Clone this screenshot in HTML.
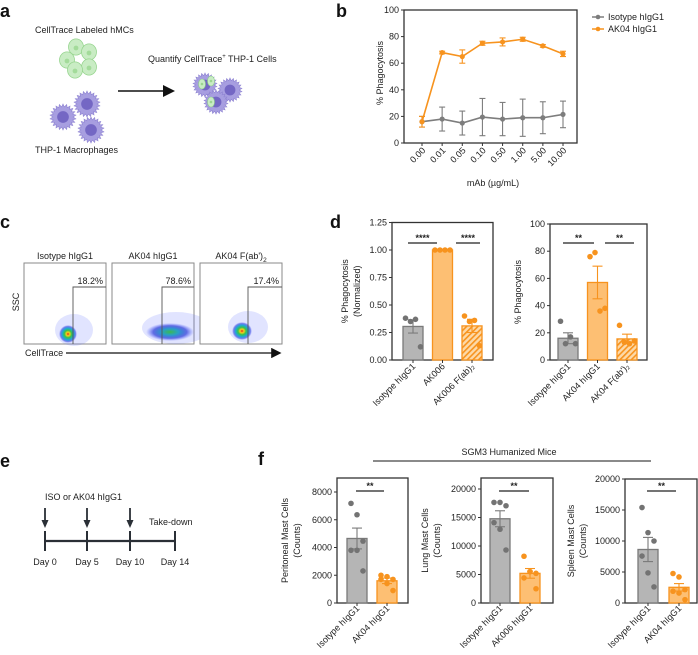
<!DOCTYPE html>
<html><head><meta charset="utf-8">
<style>
html,body{margin:0;padding:0;background:#fff;}
svg{display:block;font-family:"Liberation Sans",Arial,sans-serif;}
.t{font-size:9px;fill:#222;}
.lbl{font-size:18px;font-weight:bold;fill:#111;}
</style></head>
<body>
<svg id="fig" width="698" height="655" viewBox="0 0 698 655" xmlns="http://www.w3.org/2000/svg">
<defs>
<pattern id="hatch" patternUnits="userSpaceOnUse" width="4" height="4" patternTransform="rotate(45)">
<rect width="4" height="4" fill="#fdd9a8"/><rect width="1.6" height="4" fill="#f7931e"/>
</pattern>
<radialGradient id="flowA" cx="50%" cy="50%" r="50%">
<stop offset="0" stop-color="#e3261c"/><stop offset="0.2" stop-color="#f5d21a"/><stop offset="0.4" stop-color="#36c24a"/><stop offset="0.65" stop-color="#1fa8d8"/><stop offset="0.85" stop-color="#3040e0" stop-opacity="0.6"/><stop offset="1" stop-color="#5060ff" stop-opacity="0"/>
</radialGradient>
<radialGradient id="flowB" cx="50%" cy="50%" r="50%">
<stop offset="0" stop-color="#3cb850"/><stop offset="0.35" stop-color="#28a0c8"/><stop offset="0.7" stop-color="#2838d8" stop-opacity="0.7"/><stop offset="1" stop-color="#5060ff" stop-opacity="0"/>
</radialGradient>
<marker id="ah" markerWidth="8" markerHeight="8" refX="6" refY="4" orient="auto"><path d="M0,0 L8,4 L0,8 z" fill="#111"/></marker>
</defs>
<g id="root"></g>
</svg>
<script>
// ---------- Panel b data ----------
const bDoses = ["0.00","0.01","0.05","0.10","0.50","1.00","5.00","10.00"];
const bYTicks = [0,20,40,60,80,100];
const bIsoMean = [16,18,15,19.5,18,19,19,21.5];
const bIsoErr = [4,9,9,14,12.5,14,12,10];
const bAkMean = [16,68,65,75,76,78,73,67];
const bAkErr = [4,1,5,1.5,3,1.5,1,2];
// ---------- Panel d data ----------
const dLeftCats = ["Isotype hIgG1","AK006","AK006 F(ab)₂"];
const dLeftMeans = [0.305,1.0,0.31];
const dLeftSem = [0.06,0,0.06];
const dLeftPts0 = [0.38,0.35,0.37,0.12];
const dLeftPts1 = [1.0,1.0,1.0,1.0];
const dLeftPts2 = [0.40,0.35,0.36,0.13];
const dLeftTicks = [0,0.25,0.5,0.75,1.0,1.25];
const dRightCats = ["Isotype hIgG1","AK04 hIgG1","AK04 F(ab')₂"];
const dRightMeans = [16,57,15.5];
const dRightSem = [4,12,3.5];
const dRightPts0 = [28.5,12,17,12];
const dRightPts1 = [76,79,36,38];
const dRightPts2 = [25.5,13,12,14];
const dRightTicks = [0,20,40,60,80,100];
// ---------- Panel f data ----------
const f1Cats = ["Isotype hIgG1","AK04 hIgG1"];
const f1Means = [4650,1600];
const f1Sem = [750,200];
const f1Iso = [7180,6360,4460,3800,3800,2310];
const f1Ak = [2000,1900,1700,1700,1400,900];
const f1Ticks = [0,2000,4000,6000,8000];
const f2Cats = ["Isotype hIgG1","AK006 hIgG1"];
const f2Means = [14780,5200];
const f2Sem = [1400,850];
const f2Iso = [17650,17650,17060,14100,12940,9300];
const f2Ak = [8200,5500,5200,4400,5500,2500];
const f2Ticks = [0,5000,10000,15000,20000];
const f3Cats = ["Isotype hIgG1","AK04 hIgG1"];
const f3Means = [8630,2530];
const f3Sem = [1950,600];
const f3Iso = [15400,11350,10000,7570,4860,2600];
const f3Ak = [4760,4200,2160,1900,1600,540];
const f3Ticks = [0,5000,10000,15000,20000];

const NS="http://www.w3.org/2000/svg";
const root=document.getElementById('root');
function mk(tag,attrs,parent,text){const e=document.createElementNS(NS,tag);for(const k in attrs)e.setAttribute(k,attrs[k]);if(text!==undefined)e.textContent=text;(parent||root).appendChild(e);return e;}
function grp(name,parent){const g=mk('g',{},parent);


return g;}

const GRAY_BAR="#b5b5b5",GRAY_STK="#7a7a7a",GRAY_PT="#737373",OR="#f7931e",OR_FILL="#fdbf73",AX="#333";

// panel letters
[["a",0,17],["b",336,17],["c",0,228],["d",330,228],["e",0,467],["f",258,465]].forEach(p=>{
const t=mk('text',{x:p[1],y:p[2],class:'lbl'},root,p[0]);


});

// ---------- Panel a (schematic) ----------
const ga=grp('panel-a-schematic');
function greenCell(g,cx,cy,r){mk('ellipse',{cx:cx,cy:cy,rx:r,ry:r*1.08,fill:'#c9ecc4',stroke:'#97d58f','stroke-width':0.8},g);mk('circle',{cx:cx,cy:cy+1,r:r*0.32,fill:'#a3db9a'},g);}
function macro(g,cx,cy,r){let d='';const n=22;for(let i=0;i<n*2;i++){const a=i*Math.PI/n;const rr=i%2?r:r*0.78;d+=(i?'L':'M')+(cx+rr*Math.cos(a)).toFixed(1)+','+(cy+rr*Math.sin(a)).toFixed(1);}
mk('path',{d:d+'Z',fill:'#a79ee0',stroke:'#8f84d2','stroke-width':0.6},g);mk('circle',{cx:cx,cy:cy,r:r*0.45,fill:'#7467c4'},g);}
let t=mk('text',{x:35,y:33,class:'t','font-size':'9.5'},ga,'CellTrace Labeled hMCs');
[[76,47],[89,52],[67,60],[89,67],[75,70]].forEach(c=>greenCell(ga,c[0],c[1],7.5));
[[63,117],[87,104],[91,130]].forEach(c=>macro(ga,c[0],c[1],13));
mk('text',{x:35,y:153,class:'t','font-size':'9.5'},ga,'THP-1 Macrophages');
const qt=mk('text',{x:148,y:62,class:'t','font-size':'9.5'},ga);qt.innerHTML='Quantify CellTrace<tspan dy="-4" font-size="6">+</tspan><tspan dy="4"> THP-1 Cells</tspan>';
mk('line',{x1:118,y1:91,x2:172,y2:91,stroke:'#111','stroke-width':1.5,'marker-end':'url(#ah)'},ga);
[[230,90],[205,85],[216,102]].forEach(c=>macro(ga,c[0],c[1],12));
[[202,84],[211,81],[211,102]].forEach(c=>{mk('ellipse',{cx:c[0],cy:c[1],rx:3.5,ry:5,fill:'#c9ecc4',stroke:'#8fd08a','stroke-width':0.6},ga);mk('circle',{cx:c[0],cy:c[1],r:1.3,fill:'#9bd690'},ga);});

// ---------- generic axis helpers ----------
function yAxis(g,x,yScale,ticks,fmt,fs){ticks.forEach(v=>{const y=yScale(v);mk('line',{x1:x-3,y1:y,x2:x,y2:y,stroke:AX,'stroke-width':1},g);
const tt=mk('text',{x:x-5,y:y+3,'text-anchor':'end',class:'t','font-size':fs||9},g,fmt(v));


});}
function frame(g,x1,y1,x2,y2){mk('rect',{x:x1,y:y1,width:x2-x1,height:y2-y1,fill:'none',stroke:AX,'stroke-width':1.3},g);}
function errBar(g,x,y1,y2,c,w){mk('line',{x1:x,y1:y1,x2:x,y2:y2,stroke:c,'stroke-width':1.1},g);[y1,y2].forEach(y=>mk('line',{x1:x-w,y1:y,x2:x+w,y2:y,stroke:c,'stroke-width':1.1},g));}
function rotLabel(g,x,y,txt,fs){const tt=mk('text',{x:0,y:0,'text-anchor':'end',class:'t','font-size':fs||9,transform:`translate(${x},${y}) rotate(-45)`},g,txt);


return tt;}
function yTitle(g,x,cy,lines,fs){lines.forEach((l,i)=>{const tt=mk('text',{x:0,y:0,'text-anchor':'middle',class:'t','font-size':fs||10,transform:`translate(${x+i*12},${cy}) rotate(-90)`},g,l);


});}

// ---------- Panel b ----------
const gb=grp('panel-b-line-chart');
const bx0=404,bx1=577,by0=143,by1=10;
const yB=v=>by0-(v/100)*(by0-by1);
const xB=i=>422+i*(563-422)/(bDoses.length-1);
frame(gb,bx0,by1,bx1,by0);
yAxis(gb,bx0,yB,bYTicks,v=>String(v),9);
bDoses.forEach((d,i)=>{mk('line',{x1:xB(i),y1:by0,x2:xB(i),y2:by0+3,stroke:AX},gb);rotLabel(gb,xB(i)+4,151,d,9);});
yTitle(gb,383,73,["% Phagocytosis"],10);
let xt=mk('text',{x:493,y:186,'text-anchor':'middle',class:'t','font-size':9.5},gb,'mAb (µg/mL)');


function series(g,means,errs,color,name){const s=grp(name,g);
mk('polyline',{points:means.map((v,i)=>xB(i)+','+yB(v)).join(' '),fill:'none',stroke:color,'stroke-width':1.6},s);
means.forEach((v,i)=>{errBar(s,xB(i),yB(v-errs[i]),yB(v+errs[i]),color,3);
const c=mk('circle',{cx:xB(i),cy:yB(v),r:2.6,fill:color},s);


});}
series(gb,bIsoMean,bIsoErr,'#7d7d7d','series-isotype');
series(gb,bAkMean,bAkErr,OR,'series-ak04');
[["Isotype hIgG1",'#7d7d7d',17],["AK04 hIgG1",OR,29]].forEach(l=>{const lg=grp('legend-entry',gb);
mk('line',{x1:592,y1:l[2],x2:604,y2:l[2],stroke:l[1],'stroke-width':1.5},lg);mk('circle',{cx:598,cy:l[2],r:2.3,fill:l[1]},lg);
mk('text',{x:608,y:l[2]+3,class:'t','font-size':8.5},lg,l[0]);});

// ---------- Panel c (flow) ----------
const gc=grp('panel-c-flow');
const boxes=[[24,"Isotype hIgG1","18.2%",73,'flowA',68,334,9,9],[112,"AK04 hIgG1","78.6%",162,'flowB',170,332,24,9],[200,"AK04 F(ab')2","17.4%",248,'flowA',242,331,10,9]];
boxes.forEach((b,i)=>{const g=grp('flow-plot-'+(i+1),gc);
mk('rect',{x:b[0],y:263,width:82,height:81,fill:'#fff',stroke:'#8a8a8a','stroke-width':1},g);
if(i==2){const tt=mk('text',{x:b[0]+41,y:259,'text-anchor':'middle',class:'t','font-size':9.5},g);tt.innerHTML="AK04 F(ab')<tspan dy='3' font-size='6.5'>2</tspan>";}
else mk('text',{x:b[0]+41,y:259,'text-anchor':'middle',class:'t','font-size':9.5},g,b[1]);
mk('ellipse',{cx:b[5]+6,cy:b[6]-4,rx:b[7]+10,ry:b[8]+7,fill:'#5a6cff',opacity:0.18},g);
mk('ellipse',{cx:b[5],cy:b[6],rx:b[7],ry:b[8],fill:'url(#'+b[4]+')'},g);
mk('path',{d:`M${b[3]},344 L${b[3]},287 L${b[0]+82},287`,fill:'none',stroke:'#555','stroke-width':0.9},g);
mk('text',{x:b[0]+79,y:284,'text-anchor':'end',class:'t','font-size':9.5},g,b[2]);});
mk('text',{x:0,y:0,'text-anchor':'middle',class:'t','font-size':9,transform:'translate(19,302) rotate(-90)'},gc,'SSC');
mk('text',{x:25,y:356,class:'t','font-size':9.5},gc,'CellTrace');
mk('line',{x1:66,y1:353,x2:279,y2:353,stroke:'#111','stroke-width':1.3,'marker-end':'url(#ah)'},gc);

// ---------- bar chart helper ----------
function barChart(name,x0,x1,yTop,yZero,maxV,ticks,fmt,cats,means,sem,ptsList,cx,styles,sig,title,titleX,lblY){
const g=grp(name);
const yS=v=>yZero-(v/maxV)*(yZero-yTop);
frame(g,x0,yTop,x1,yZero);
yAxis(g,x0,yS,ticks,fmt,9);
cats.forEach((c,i)=>{const x=cx(i);const st=styles[i];
const r=mk('rect',{x:x-10,y:yS(means[i]),width:20,height:yZero-yS(means[i]),fill:st[0],stroke:st[1],'stroke-width':1.3},g);


if(sem[i]>0)errBar(g,x,yS(means[i]-sem[i]),yS(means[i]+sem[i]),st[1],5);
const pts=ptsList[i];pts.forEach((v,j)=>{const off=pts.length==6?((j%3)-1)*6:(j-1.5)*5;
const p=mk('circle',{cx:x+off,cy:yS(v),r:2.8,fill:st[2]},g);


});
mk('line',{x1:x,y1:yZero,x2:x,y2:yZero+3,stroke:AX},g);
const lb=c.indexOf('₂')>=0;
const tt=rotLabel(g,x+3,lblY,c,9);});
sig.forEach(s=>{mk('line',{x1:s[0],y1:s[2],x2:s[1],y2:s[2],stroke:'#222','stroke-width':1.3},g);
mk('text',{x:(s[0]+s[1])/2,y:s[2]-2,'text-anchor':'middle',class:'t','font-size':9,'font-weight':'bold'},g,s[3]);});
yTitle(g,titleX,(yTop+yZero)/2,title,10);
return g;}
const SG=[GRAY_BAR,GRAY_STK,GRAY_PT],SO=[OR_FILL,OR,OR],SH=['url(#hatch)',OR,OR];
barChart('panel-d-left-chart',392,493,222.5,360,1.25,dLeftTicks,v=>v.toFixed(2),dLeftCats,dLeftMeans,dLeftSem,[dLeftPts0,dLeftPts1,dLeftPts2],i=>413+i*29.5,[SG,SO,SH],[[408,437,243,'****'],[456,480,243,'****']],["% Phagocytosis","(Normalized)"],348,367);
barChart('panel-d-right-chart',550,647,224,360,100,dRightTicks,v=>String(v),dRightCats,dRightMeans,dRightSem,[dRightPts0,dRightPts1,dRightPts2],i=>568+i*29.5,[SG,SO,SH],[[563,594,243,'**'],[605,634,243,'**']],["% Phagocytosis"],521,367);

// ---------- Panel e ----------
const ge=grp('panel-e-timeline');
mk('text',{x:45,y:500,class:'t','font-size':10.5},ge,'ISO or AK04 hIgG1');
[45,87,130].forEach(x=>{mk('line',{x1:x,y1:508,x2:x,y2:522,stroke:'#2a2f36','stroke-width':1.8},ge);mk('path',{d:`M${x-3.5},520 L${x+3.5},520 L${x},528 Z`,fill:'#2a2f36'},ge);});
mk('line',{x1:45,y1:541,x2:175,y2:541,stroke:'#2a2f36','stroke-width':2.2},ge);
[[45,"Day 0"],[87,"Day 5"],[130,"Day 10"],[175,"Day 14"]].forEach(d=>{mk('line',{x1:d[0],y1:531,x2:d[0],y2:551,stroke:'#2a2f36','stroke-width':2},ge);mk('text',{x:d[0],y:565,'text-anchor':'middle',class:'t','font-size':10.5},ge,d[1]);});
mk('text',{x:149,y:525,class:'t','font-size':10.5},ge,'Take-down');

// ---------- Panel f ----------
const gfh=grp('panel-f-header');
mk('text',{x:509,y:455,'text-anchor':'middle',class:'t','font-size':13.5},gfh,'SGM3 Humanized Mice');
mk('line',{x1:373,y1:461,x2:651,y2:461,stroke:'#444','stroke-width':1.2},gfh);
barChart('panel-f-peritoneal-chart',337,408,478,603,8000*(603-478)/(603-492),f1Ticks,v=>String(v),f1Cats,f1Means,f1Sem,[f1Iso,f1Ak],i=>357+i*30,[SG,SO],[[356,384,491,'**']],["Peritoneal Mast Cells","(Counts)"],288,609);
barChart('panel-f-lung-chart',481,553,478,603,20000*(603-478)/(603-489),f2Ticks,v=>String(v),f2Cats,f2Means,f2Sem,[f2Iso,f2Ak],i=>500+i*30,[SG,SO],[[499,529,491,'**']],["Lung Mast Cells","(Counts)"],428,609);
barChart('panel-f-spleen-chart',625,697,479,603,20000,f3Ticks,v=>String(v),f3Cats,f3Means,f3Sem,[f3Iso,f3Ak],i=>648+i*31,[SG,SO],[[647,676,491,'**']],["Spleen Mast Cells","(Counts)"],574,609);
</script>
</body></html>
